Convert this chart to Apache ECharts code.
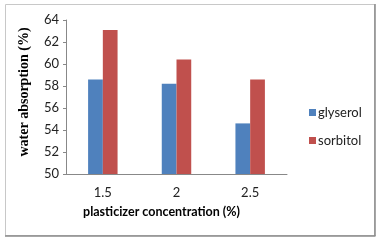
<!DOCTYPE html>
<html><head><meta charset="utf-8">
<script src="https://cdn.jsdelivr.net/npm/echarts@6/dist/echarts.min.js"></script>
<style>html,body{margin:0;padding:0;background:#fff}#c{width:383px;height:241px}</style>
</head><body><div id="c"></div>
<script>
var categories = ['1.5', '2', '2.5'];
var glyserol = [58.6, 58.2, 54.6];
var sorbitol = [63.1, 60.4, 58.6];
var yTicks = [50, 52, 54, 56, 58, 60, 62, 64];

var chart = echarts.init(document.getElementById('c'), null, {renderer: 'canvas'});
chart.setOption({
  animation: false,
  backgroundColor: '#fff',
  graphic: [
    {type: 'rect', shape: {x: 5.5, y: 4.5, width: 369, height: 231}, style: {fill: 'none', stroke: '#c8c8c8', lineWidth: 1}},
    {type: 'line', shape: {x1: 375, y1: 4, x2: 375, y2: 236}, style: {stroke: '#8a8a8a', lineWidth: 1.5}},
    {type: 'line', shape: {x1: 5, y1: 236, x2: 375.5, y2: 236}, style: {stroke: '#8a8a8a', lineWidth: 1.5}}
  ],
  grid: {left: 66, right: 96, top: 20, bottom: 67},
  legend: {
    orient: 'vertical', left: 304, top: 101, itemWidth: 7, itemHeight: 7, itemGap: 15,
    icon: 'rect',
    textStyle: {fontFamily: 'Lato', fontSize: 13, color: '#222', padding: [0, 0, 0, -3]},
    data: ['glyserol', 'sorbitol']
  },
  xAxis: {
    type: 'category', data: categories,
    axisLine: {lineStyle: {color: '#888'}},
    axisTick: {show: false},
    axisLabel: {fontFamily: 'Lato', fontSize: 13, color: '#222', margin: 12},
    name: 'plasticizer concentration (%)', nameLocation: 'middle', nameGap: 31,
    nameTextStyle: {fontFamily: 'Lato', fontWeight: 'bold', fontSize: 12.5, color: '#000', padding: [0, 30, 0, 0]}
  },
  yAxis: {
    type: 'value', min: 50, max: 64, interval: 2,
    axisLine: {show: true, lineStyle: {color: '#888'}},
    axisTick: {show: true, length: 3, lineStyle: {color: '#888'}},
    splitLine: {show: false},
    axisLabel: {fontFamily: 'Lato', fontSize: 13, color: '#222', margin: 7,
      formatter: function (v) { return yTicks.indexOf(v) >= 0 ? String(v) : ''; }},
    name: 'water absorption (%)', nameLocation: 'middle', nameGap: 35,
    nameTextStyle: {fontFamily: 'Liberation Serif', fontWeight: 'bold', fontSize: 14, color: '#000', padding: [0, 0, 0, 10]}
  },
  series: [
    {name: 'glyserol', type: 'bar', data: glyserol, barWidth: '20%', barGap: '0%', itemStyle: {color: '#4F81BD'}},
    {name: 'sorbitol', type: 'bar', data: sorbitol, barWidth: '20%', barGap: '0%', itemStyle: {color: '#C0504D'}}
  ]
});
</script></body></html>
